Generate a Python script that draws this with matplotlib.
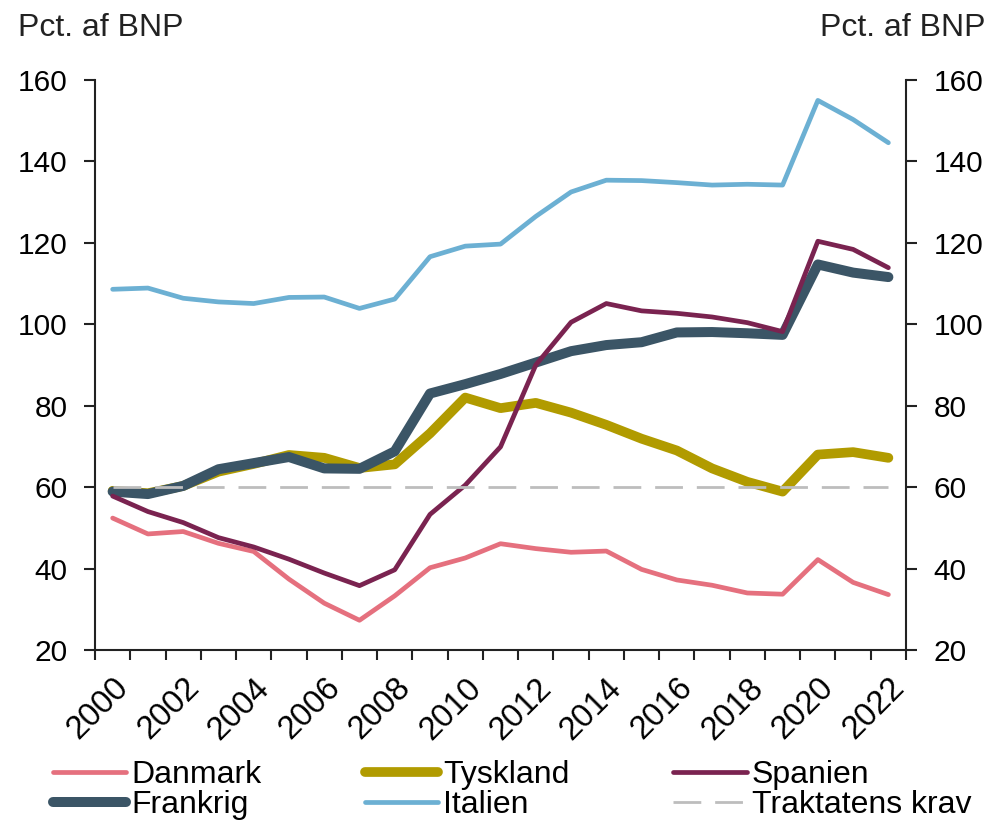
import matplotlib.pyplot as plt
import matplotlib.transforms as mtransforms
import numpy as np

plt.rcParams['font.family'] = ['Liberation Sans', 'DejaVu Sans']

years = list(range(2000, 2023))

danmark = [52.4, 48.5, 49.1, 46.2, 44.2, 37.4, 31.5, 27.3, 33.3, 40.2, 42.6, 46.1,
           44.9, 44.0, 44.3, 39.8, 37.2, 35.9, 34.0, 33.7, 42.2, 36.6, 33.6]
tyskland = [59.1, 58.5, 60.3, 63.8, 65.7, 67.9, 67.2, 64.7, 65.6, 73.2, 82.0, 79.4,
            80.7, 78.3, 75.3, 71.9, 69.0, 64.6, 61.3, 58.9, 68.0, 68.6, 67.2]
spanien = [57.8, 54.0, 51.3, 47.6, 45.3, 42.3, 38.9, 35.8, 39.7, 53.3, 60.5, 69.9,
           90.0, 100.5, 105.1, 103.3, 102.7, 101.8, 100.4, 98.2, 120.4, 118.4, 113.9]
frankrig = [58.9, 58.3, 60.3, 64.4, 65.9, 67.4, 64.6, 64.5, 68.8, 83.0, 85.3, 87.8,
            90.6, 93.4, 94.9, 95.6, 98.0, 98.1, 97.8, 97.4, 114.7, 112.7, 111.6]
italien = [108.6, 108.9, 106.4, 105.5, 105.1, 106.6, 106.7, 103.9, 106.2, 116.6, 119.2, 119.7,
           126.5, 132.5, 135.4, 135.3, 134.8, 134.2, 134.4, 134.2, 155.0, 150.3, 144.6]
traktat = [60] * len(years)

x = np.arange(len(years))

fig = plt.figure(figsize=(9.93, 8.26), dpi=100)
ax = fig.add_axes([0.0957, 0.2131, 0.8167, 0.69])

l_dk, = ax.plot(x, danmark, color='#E5707E', lw=3.4, label='Danmark', zorder=4, solid_capstyle='round')
l_de, = ax.plot(x, tyskland, color='#B19B00', lw=7.0, label='Tyskland', zorder=2, solid_capstyle='round')
l_es, = ax.plot(x, spanien, color='#7A2350', lw=3.4, label='Spanien', zorder=5, solid_capstyle='round')
l_fr, = ax.plot(x, frankrig, color='#3B5566', lw=7.2, label='Frankrig', zorder=3, solid_capstyle='round')
l_it, = ax.plot(x, italien, color='#6CB0D3', lw=3.4, label='Italien', zorder=3, solid_capstyle='round')
l_tr, = ax.plot(x, traktat, color='#BDBDBD', lw=2.0, dashes=(10, 5), label='Traktatens krav', zorder=6)

ax.set_xlim(-0.5, len(years) - 0.5)
ax.set_ylim(20, 160)
ax.set_yticks(np.arange(20, 161, 20))

# tick marks on category boundaries, labels on every second year
ax.set_xticks(np.arange(-0.5, len(years), 1.0))
ax.set_xticklabels([])
ax.set_xticks(x[::2], minor=True)
ax.set_xticklabels([str(y) for y in years[::2]], minor=True, rotation=45,
                   ha='right', va='top', rotation_mode='anchor', fontsize=23.5)
shift = mtransforms.ScaledTranslation(-0.13, 0, fig.dpi_scale_trans)
for lab in ax.get_xticklabels(minor=True):
    lab.set_transform(lab.get_transform() + shift)
ax.tick_params(axis='x', which='minor', length=0, pad=16)
ax.tick_params(axis='x', which='major', length=7.5, width=1.5, direction='out', color='#222222')
ax.tick_params(axis='y', length=8, width=1.5, direction='out', left=True, right=True,
               labelleft=True, labelright=True, labelsize=21.5, pad=12, color='#222222')

for side in ['left', 'right', 'bottom']:
    ax.spines[side].set_linewidth(1.5)
    ax.spines[side].set_color('#222222')
ax.spines['top'].set_visible(False)

fig.text(0.018, 0.966, 'Pct. af BNP', fontsize=23, ha='left', va='center', color='#222222')
fig.text(0.992, 0.966, 'Pct. af BNP', fontsize=23, ha='right', va='center', color='#222222')

handles = [l_dk, l_fr, l_de, l_it, l_es, l_tr]
fig.legend(handles, [h.get_label() for h in handles], ncol=3, loc='upper left',
           bbox_to_anchor=(0.053, 0.080), frameon=False, fontsize=23,
           handlelength=2.3, handletextpad=0.15, columnspacing=3.25, labelspacing=0.0,
           borderaxespad=0.0, borderpad=0.0)

plt.savefig('out.png', dpi=100)
